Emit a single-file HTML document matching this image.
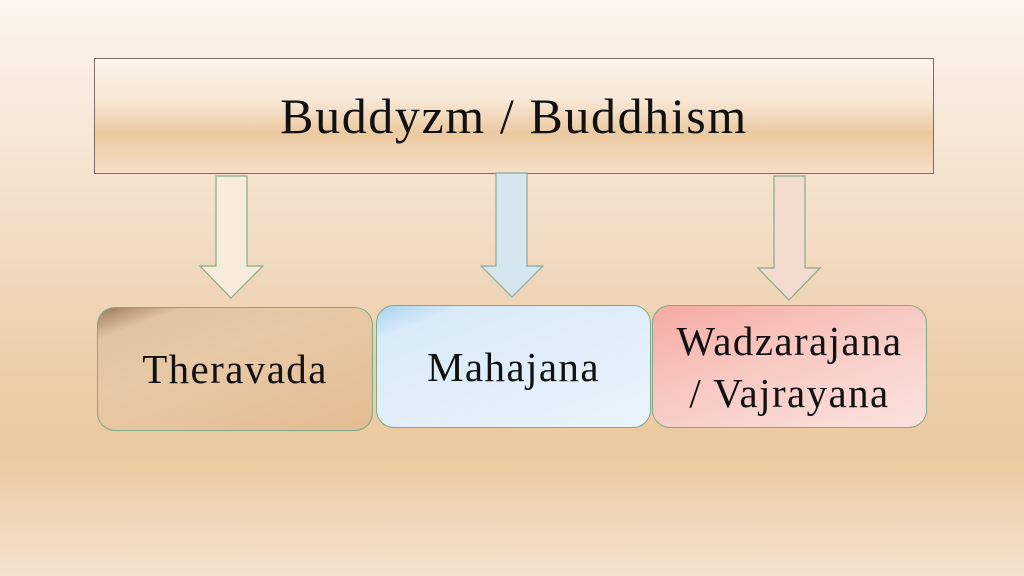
<!DOCTYPE html>
<html><head><style>
body{margin:0;width:1024px;height:576px;overflow:hidden;font-family:"Liberation Serif",serif;
background:linear-gradient(#fcf4ee 0%,#f3e0cb 35%,#edcda7 65%,#eccaa1 80%,#f4e2cf 100%);position:relative}
.top{position:absolute;left:94px;top:58px;width:838px;height:114px;border:1.5px solid #7a6e66;
background:linear-gradient(#fcf3ea 0%,#f8e8d8 35%,#ecc9a0 65%,#f5dfc6 100%);
display:flex;align-items:center;justify-content:center;font-size:50px;letter-spacing:1.6px;color:#111}
.b{position:absolute;border:1.5px solid #7ea98a;border-radius:18px;display:flex;align-items:center;justify-content:center;text-align:center;font-size:41px;letter-spacing:1.4px;line-height:52px;color:#111}
svg{position:absolute;left:0;top:0}
</style></head><body>
<div class="top">Buddyzm / Buddhism</div>
<svg width="1024" height="576">
<polygon points="216,176 247,176 247,266 263,266 231,298 200,266 216,266" fill="#f7ebdc" stroke="#8aa88a" stroke-width="1.2"/>
<polygon points="496,173 527,173 527,266 543,266 512,297 481,266 496,266" fill="#d6e6ee" stroke="#8aa8a0" stroke-width="1.2"/>
<polygon points="774,176 805,176 805,268 820,268 789,300 758,268 774,268" fill="#f1dccf" stroke="#8aa88a" stroke-width="1.2"/>
</svg>
<div class="b" style="left:97px;top:307px;width:274px;height:122px;background:linear-gradient(160deg,#9b7a58 0%,#e2c3a2 14%,#e8c9a5 40%,#e3bc92 100%)">Theravada</div>
<div class="b" style="left:376px;top:305px;width:273px;height:121px;background:linear-gradient(160deg,#a9d2ef 0%,#d9ebf8 15%,#e2eff9 60%,#eaf3fa 100%)">Mahajana</div>
<div class="b" style="left:652px;top:305px;width:273px;height:121px;background:linear-gradient(160deg,#f6aaa3 0%,#f8c6c0 40%,#fae3de 100%)">Wadzarajana<br>/ Vajrayana</div>
</body></html>
